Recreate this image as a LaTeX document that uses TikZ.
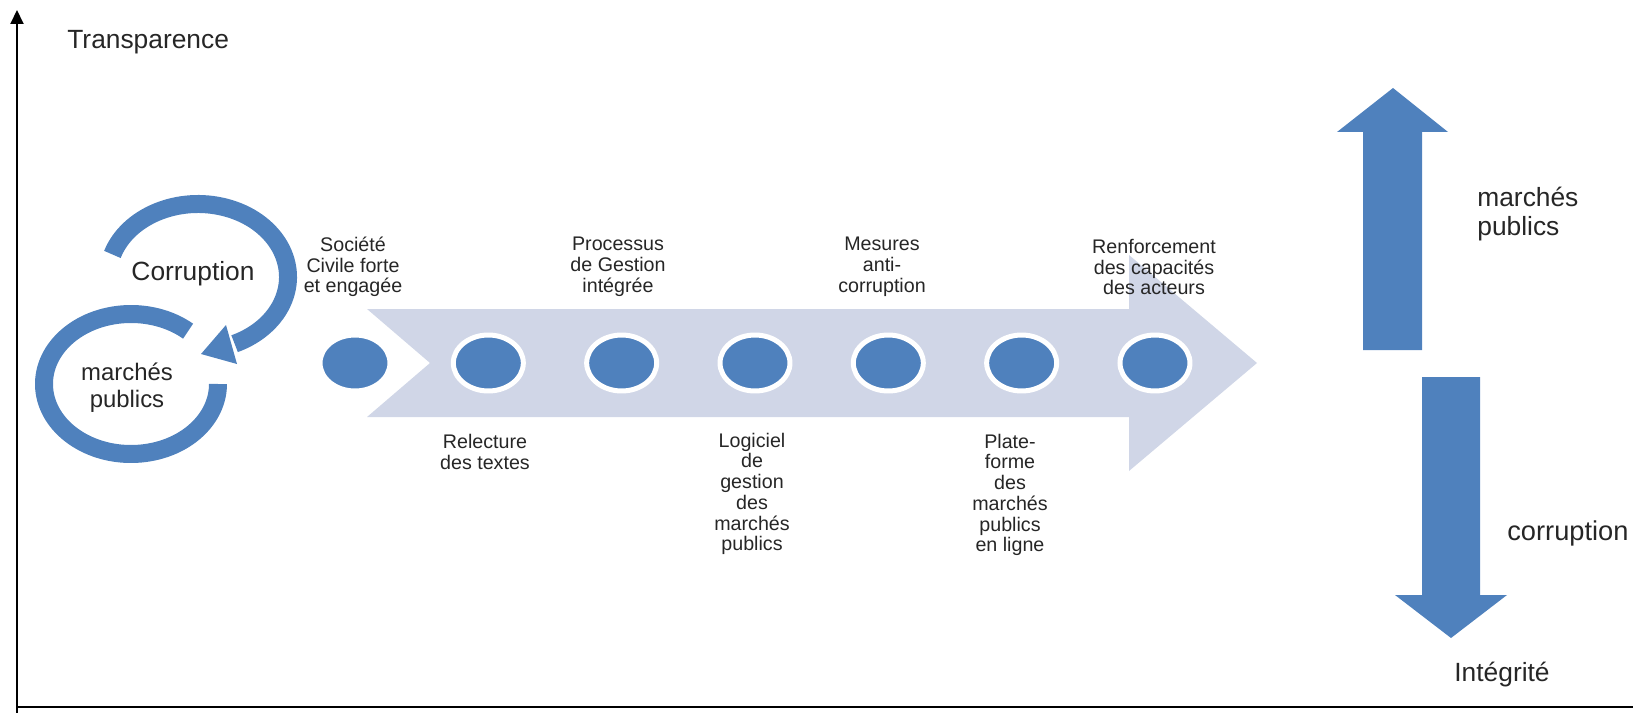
\documentclass[tikz,border=0pt]{standalone}
\usepackage{fontspec}
\setmainfont{Liberation Sans}
\usepackage{tikz}
\usetikzlibrary{arrows.meta,shapes.geometric}
\definecolor{smartblue}{RGB}{79,129,189}
\definecolor{paleblue}{RGB}{208,214,231}

\begin{document}
\begin{tikzpicture}[x=0.02cm,y=-0.02cm,
dot/.style={ellipse,fill=smartblue,draw=white,line width=0.1cm,minimum width=1.4cm,minimum height=1.12cm},
ring/.style={draw=smartblue,line width=0.36cm},
lbl/.style={align=center,inner sep=0pt,text=black!85,font=\fontsize{11.2}{11.8}\selectfont},
big/.style={inner sep=0pt,text=black!85,font=\fontsize{15}{18}\selectfont}]
\useasboundingbox (0,0) rectangle (1633,713);

% axes
\coordinate (orig) at (17,713);
\coordinate (ytip) at (17,10);
\coordinate (xorig) at (17,707);
\coordinate (xend) at (1633,707);
\draw[line width=0.04cm,-{Triangle[length=0.28cm,width=0.26cm]}] (orig) -- (ytip);
\draw[line width=0.04cm] (xorig) -- (xend);
\node[big,anchor=west] (transp) at (67,42) {Transparence};

% the two rings
\draw[ring] ([shift={(-162:90 and 73)}]198,277) arc[start angle=-162,end angle=66,x radius=90,y radius=73];
\fill[smartblue] (201,354) -- (226,325) -- (237,364) -- cycle;
\draw[ring] ([shift={(-49:87 and 70)}]131,384) arc[start angle=-49,end angle=-360,x radius=87,y radius=70];
\node[big] (corr) at (193,274) {Corruption};
\node[big,align=center,font=\fontsize{13.6}{15.4}\selectfont] (mp) at (127,388) {marchés\\publics};

% timeline
\fill[paleblue] (367,309) -- (1129,309) -- (1129,255) -- (1257,363) -- (1129,471) -- (1129,417) -- (367,417) -- (430,363) -- cycle;
\foreach \i in {1,...,7}
  \node[dot] (c\i) at ({355+133.33*(\i-1)},363) {};

\node[lbl] (societe) at (353,267) {Société\\Civile forte\\et engagée};
\node[lbl] (relecture) at (485,452) {Relecture\\des textes};
\node[lbl] (processus) at (618,267) {Processus\\de Gestion\\intégrée};
\node[lbl] (logiciel) at (752,494) {Logiciel\\de\\gestion\\des\\marchés\\publics};
\node[lbl] (mesures) at (882,267) {Mesures\\anti-\\corruption};
\node[lbl] (plateforme) at (1010,495) {Plate-\\forme\\des\\marchés\\publics\\en ligne};
\node[lbl] (renfo) at (1154,267) {Renforcement\\des capacités\\des acteurs};

% up and down arrows
\fill[smartblue] (1363,350) -- (1363,132) -- (1337,132) -- (1393,88) -- (1448,132) -- (1422,132) -- (1422,350) -- cycle;
\fill[smartblue] (1422,377) -- (1480,377) -- (1480,595) -- (1507,595) -- (1451,638) -- (1395,595) -- (1422,595) -- cycle;
\node[big,align=left,anchor=west,font=\fontsize{15}{17}\selectfont] (mpr) at (1477,214) {marchés\\publics};
\node[big,anchor=west,font=\fontsize{15.5}{18}\selectfont] (corrr) at (1507,533) {corruption};
\node[big] (integ) at (1502,675) {Intégrité};
\end{tikzpicture}
\end{document}
